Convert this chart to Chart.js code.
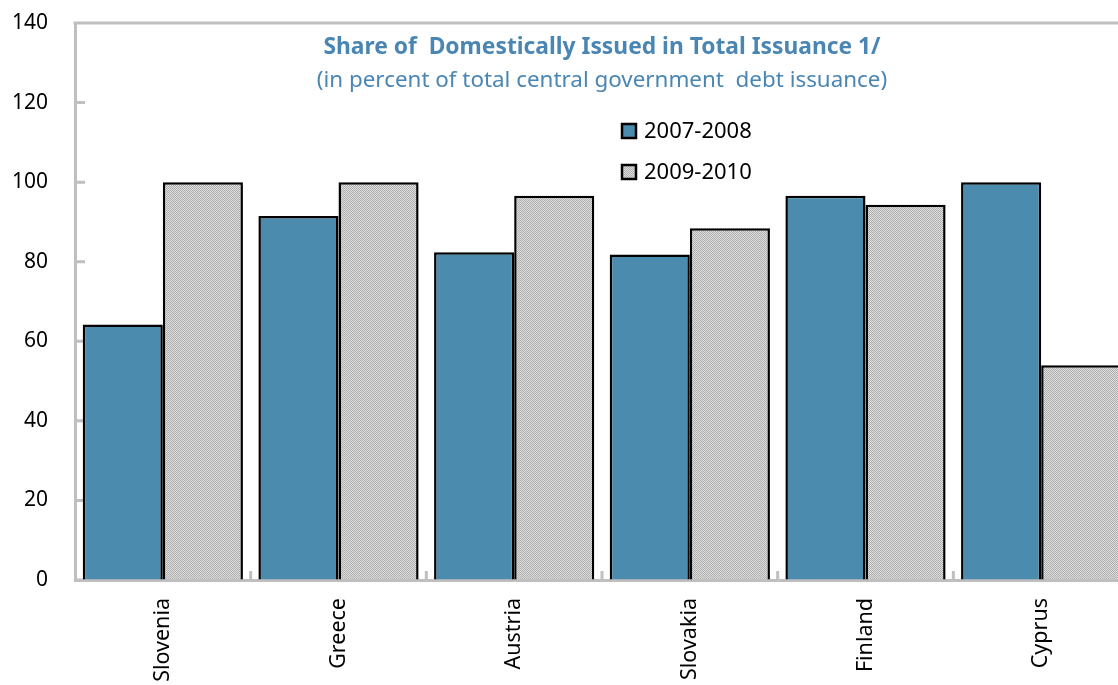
<!DOCTYPE html>
<html>
<head>
<meta charset="utf-8">
<script src="https://cdn.jsdelivr.net/npm/chart.js@4.4.0/dist/chart.umd.min.js"></script>
<style>
  html, body { margin: 0; padding: 0; background: #fff; overflow: hidden; }
  #wrap { position: absolute; left: 0; top: 0; width: 1150px; height: 720px; }
</style>
</head>
<body>
<div id="wrap"><canvas id="issuanceChart" width="1150" height="720"></canvas></div>
<script>
// Countries and shares (percent of total central government debt issuance)
const countries = ['Slovenia', 'Greece', 'Austria', 'Slovakia', 'Finland', 'Cyprus'];
const share2007 = [64.2, 91.5, 82.4, 81.8, 96.6, 100];
const share2009 = [100, 100, 96.6, 88.4, 94.3, 54];
const seriesLabels = ['2007-2008', '2009-2010'];
const yTicks = [0, 20, 40, 60, 80, 100, 120, 140];

const titleText = 'Share of  Domestically Issued in Total Issuance 1/';
const subtitleText = '(in percent of total central government  debt issuance)';

const FONT = '"Noto Sans", "Open Sans", sans-serif';
const AXIS_GREY = '#bfbfbf';
const BLUE = '#4b8bad';

// fine dotted grey fill for the second series
function makeDither() {
    const c = document.createElement('canvas');
    c.width = 2; c.height = 2;
    const g = c.getContext('2d');
    g.fillStyle = '#dedede'; g.fillRect(0, 0, 2, 2);
    g.fillStyle = '#aeaeae'; g.fillRect(0, 0, 1, 1); g.fillRect(1, 1, 1, 1);
    return g.createPattern(c, 'repeat');
}
const dither = makeDither();

// title, legend, top frame line and inward tick marks
const decorations = {
    id: 'decorations',
    beforeDatasetsDraw(chart) {
        const { ctx, chartArea: a, scales } = chart;
        ctx.save();
        ctx.strokeStyle = AXIS_GREY;
        ctx.lineWidth = 3;
        ctx.beginPath();
        ctx.moveTo(a.left - 1.5, a.top);
        ctx.lineTo(a.right + 40, a.top);
        yTicks.forEach(v => {
            const y = scales.y.getPixelForValue(v);
            ctx.moveTo(a.left, y);
            ctx.lineTo(a.left + 10, y);
        });
        const step = (a.right - a.left) / countries.length;
        for (let i = 1; i < countries.length; i++) {
            const x = a.left + i * step;
            ctx.moveTo(x, a.bottom);
            ctx.lineTo(x, a.bottom - 9);
        }
        ctx.stroke();
        ctx.restore();
    },
    afterDraw(chart) {
        const { ctx, chartArea: a } = chart;
        const cx = (a.left + a.right) / 2;
        ctx.save();
        ctx.fillStyle = '#4a86b3';
        ctx.textAlign = 'center';
        ctx.textBaseline = 'middle';
        ctx.font = 'bold 22.8px ' + FONT;
        ctx.fillText(titleText, cx, 48);
        ctx.font = '22.4px ' + FONT;
        ctx.fillText(subtitleText, cx, 81);

        // legend
        chart.data.datasets.forEach((ds, i) => {
            const y = 131 + i * 41;
            ctx.fillStyle = ds.backgroundColor;
            ctx.fillRect(622, y - 7, 14, 14);
            ctx.strokeStyle = '#000';
            ctx.lineWidth = 2.5;
            ctx.strokeRect(622, y - 7, 14, 14);
            ctx.fillStyle = '#000';
            ctx.textAlign = 'left';
            ctx.font = '22px ' + FONT;
            ctx.fillText(ds.label, 644, y + 1);
        });
        ctx.restore();
    }
};

new Chart(document.getElementById('issuanceChart'), {
    type: 'bar',
    data: {
        labels: countries,
        datasets: [{
            label: seriesLabels[0],
            data: share2007,
            backgroundColor: BLUE,
            borderColor: '#000',
            borderWidth: 2.5,
            borderSkipped: 'bottom'
        }, {
            label: seriesLabels[1],
            data: share2009,
            backgroundColor: dither,
            borderColor: '#000',
            borderWidth: 2.5,
            borderSkipped: 'bottom'
        }]
    },
    options: {
        responsive: false,
        animation: false,
        devicePixelRatio: 1,
        categoryPercentage: 0.912,
        barPercentage: 1,
        layout: { padding: { top: 23, right: 21, left: 0, bottom: 0 } },
        plugins: {
            legend: { display: false },
            title: { display: false },
            tooltip: { enabled: false }
        },
        scales: {
            x: {
                grid: { display: true, drawOnChartArea: false, drawTicks: false },
                border: { display: true, color: AXIS_GREY, width: 3 },
                ticks: {
                    color: '#000',
                    font: { family: FONT, size: 21.5 },
                    minRotation: 90,
                    maxRotation: 90,
                    padding: 18,
                    autoSkip: false
                },
                afterFit(scale) { scale.height = 140; }
            },
            y: {
                min: 0,
                max: 140,
                // invisible tick marks keep the labels away from the axis
                grid: {
                    display: true, drawOnChartArea: false, drawTicks: true,
                    tickLength: 27, tickColor: 'rgba(0,0,0,0)'
                },
                border: { display: true, color: AXIS_GREY, width: 3 },
                ticks: {
                    stepSize: 20,
                    color: '#000',
                    font: { family: FONT, size: 21 },
                    padding: 0
                },
                afterFit(scale) { scale.width = 75; }
            }
        }
    },
    plugins: [decorations]
});
</script>
</body>
</html>
